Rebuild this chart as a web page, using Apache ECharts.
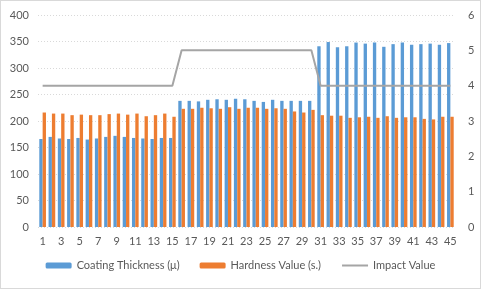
<!DOCTYPE html>
<html>
<head>
<meta charset="utf-8">
<script src="https://cdn.jsdelivr.net/npm/echarts@6/dist/echarts.min.js"></script>
<style>
    html, body { margin: 0; padding: 0; background: #fff; }
    #chart {
        width: 479px;
        height: 287px;
        border: 1px solid #d9d9d9;
    }
</style>
</head>
<body>
<div id="chart"></div>
<script>
    // samples 1..45
    var categories = [];
    for (var i = 1; i <= 45; i++) categories.push(String(i));

    var coatingThickness = [
        166, 170, 167, 166, 168, 165, 167, 170, 172, 170, 168, 167, 166, 168, 168,
        238, 238, 237, 240, 241, 240, 242, 241, 238, 236, 240, 238, 238, 238, 238,
        341, 349, 339, 341, 348, 346, 348, 340, 345, 348, 344, 345, 346, 344, 347
    ];
    var hardnessValue = [
        216, 214, 214, 211, 212, 211, 211, 213, 214, 212, 214, 209, 211, 214, 208,
        223, 223, 225, 224, 223, 226, 223, 225, 225, 223, 224, 223, 218, 216, 221,
        211, 210, 210, 206, 207, 208, 206, 209, 206, 207, 207, 204, 203, 208, 208
    ];
    var impactValue = [
        4, 4, 4, 4, 4, 4, 4, 4, 4, 4, 4, 4, 4, 4, 4,
        5, 5, 5, 5, 5, 5, 5, 5, 5, 5, 5, 5, 5, 5, 5,
        4, 4, 4, 4, 4, 4, 4, 4, 4, 4, 4, 4, 4, 4, 4
    ];

    var labelFont = { color: '#595959', fontSize: 11, fontFamily: 'Lato' };

    var chart = echarts.init(document.getElementById('chart'));
    chart.setOption({
        animation: false,
        grid: { left: 37, right: 25, top: 14, bottom: 61 },
        legend: {
            bottom: 12,
            left: 'center',
            itemWidth: 26,
            itemHeight: 6,
            itemGap: 20,
            textStyle: { color: '#595959', fontSize: 11, fontFamily: 'Lato' },
            data: [
                'Coating Thickness (μ)',
                'Hardness Value (s.)',
                { name: 'Impact Value', itemStyle: { opacity: 0 } }
            ]
        },
        xAxis: {
            type: 'category',
            data: categories,
            axisLine: { show: false },
            axisTick: { show: false },
            axisLabel: Object.assign({ interval: 1, margin: 9 }, labelFont)
        },
        yAxis: [{
            type: 'value',
            min: 0, max: 400, interval: 50,
            axisLabel: Object.assign({ margin: 9 }, labelFont),
            splitLine: { lineStyle: { color: '#d9d9d9', type: [1, 2] } }
        }, {
            type: 'value',
            min: 0, max: 6, interval: 1,
            axisLabel: Object.assign({ margin: 13 }, labelFont),
            splitLine: { show: false }
        }],
        series: [{
            name: 'Coating Thickness (μ)',
            type: 'bar',
            data: coatingThickness,
            barGap: '0%',
            barCategoryGap: '28%',
            itemStyle: { color: '#5b9bd5' }
        }, {
            name: 'Hardness Value (s.)',
            type: 'bar',
            data: hardnessValue,
            itemStyle: { color: '#ed7d31' }
        }, {
            name: 'Impact Value',
            type: 'line',
            yAxisIndex: 1,
            data: impactValue,
            symbol: 'none',
            lineStyle: { color: '#a5a5a5', width: 2 },
            itemStyle: { color: '#a5a5a5' }
        }]
    });
</script>
</body>
</html>
